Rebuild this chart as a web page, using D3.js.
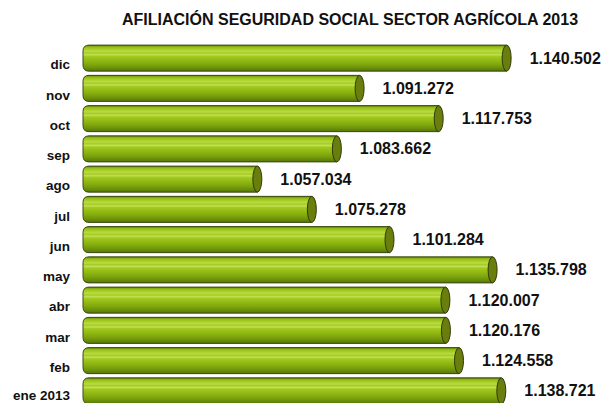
<!DOCTYPE html>
<html>
<head>
<meta charset="utf-8">
<script src="https://d3js.org/d3.v7.min.js"></script>
<style>
  body { margin: 0; background: #fff; }
  text { font-family: "Liberation Sans", Arial, sans-serif; font-weight: bold; fill: #111; }
</style>
</head>
<body>
<svg id="chart" width="611" height="403"></svg>
<script>
// data (top to bottom)
var months = ["dic", "nov", "oct", "sep", "ago", "jul", "jun", "may", "abr", "mar", "feb", "ene 2013"];
var afiliados = [1140502, 1091272, 1117753, 1083662, 1057034, 1075278, 1101284, 1135798, 1120007, 1120176, 1124558, 1138721];
var valueLabels = ["1.140.502", "1.091.272", "1.117.753", "1.083.662", "1.057.034", "1.075.278", "1.101.284", "1.135.798", "1.120.007", "1.120.176", "1.124.558", "1.138.721"];
var axisMin = 1000000, axisMax = 1150000;

var data = months.map(function(m, i) {
  return { label: m, amount: afiliados[i], text: valueLabels[i] };
});

var svg = d3.select("#chart");

// title
svg.append("text")
  .attr("x", 350)
  .attr("y", 25)
  .attr("text-anchor", "middle")
  .style("font-size", "16px")
  .text("AFILIACIÓN SEGURIDAD SOCIAL SECTOR AGRÍCOLA 2013");

var x = d3.scaleLinear().domain([axisMin, axisMax]).range([87, 535]);
var y = d3.scaleBand().domain(months).range([43, 406]).paddingInner(0.14).paddingOuter(0.07);

// cylinder body gradient with light stripes
var defs = svg.append("defs");
var grad = defs.append("linearGradient")
  .attr("id", "cyl")
  .attr("x1", 0).attr("y1", 0).attr("x2", 0).attr("y2", 1);
var stops = [
  [0, "#5f7d08"], [0.07, "#93bb16"], [0.16, "#a9cf26"], [0.24, "#b9db45"],
  [0.3, "#a6cb22"], [0.37, "#c2e055"], [0.43, "#a4ca20"], [0.52, "#98c018"],
  [0.62, "#8db612"], [0.74, "#80a70e"], [0.86, "#6e940a"], [1, "#56750a"]
];
stops.forEach(function(s) {
  grad.append("stop").attr("offset", s[0]).attr("stop-color", s[1]);
});

var h = y.bandwidth();
var capRx = 4.5;

var bar = svg.selectAll(".bar")
  .data(data)
  .enter()
  .append("g")
  .attr("class", "bar");

// body with rounded left end
bar.append("path")
  .attr("d", function(d) {
    var x0 = x(axisMin) - 4, x1 = x(d.amount), t = y(d.label), b = t + h;
    return "M" + x1 + "," + t +
      " L" + (x0 + 6) + "," + t +
      " Q" + x0 + "," + t + " " + x0 + "," + (t + 6) +
      " L" + x0 + "," + (b - 6) +
      " Q" + x0 + "," + b + " " + (x0 + 6) + "," + b +
      " L" + x1 + "," + b + " Z";
  })
  .attr("fill", "url(#cyl)")
  .attr("stroke", "#3c4a12")
  .attr("stroke-width", 1);

// end cap
bar.append("ellipse")
  .attr("cx", function(d) { return x(d.amount); })
  .attr("cy", function(d) { return y(d.label) + h / 2; })
  .attr("rx", capRx)
  .attr("ry", h / 2)
  .attr("fill", "#6a7e0e")
  .attr("stroke", "#2f3a0c")
  .attr("stroke-width", 1);

// value labels
bar.append("text")
  .attr("x", function(d) { return x(d.amount) + 23; })
  .attr("y", function(d) { return y(d.label) + h / 2; })
  .attr("dy", "0.35em")
  .style("font-size", "16px")
  .text(function(d) { return d.text; });

// category labels (sit a bit below the bar centre; keep the last one inside the picture)
svg.selectAll(".cat")
  .data(data)
  .enter()
  .append("text")
  .attr("class", "cat")
  .attr("x", 70)
  .attr("y", function(d) { return Math.min(y(d.label) + h / 2 + 6.5, 395); })
  .attr("dy", "0.35em")
  .attr("text-anchor", "end")
  .style("font-size", "13.5px")
  .text(function(d) { return d.label; });
</script>
</body>
</html>
